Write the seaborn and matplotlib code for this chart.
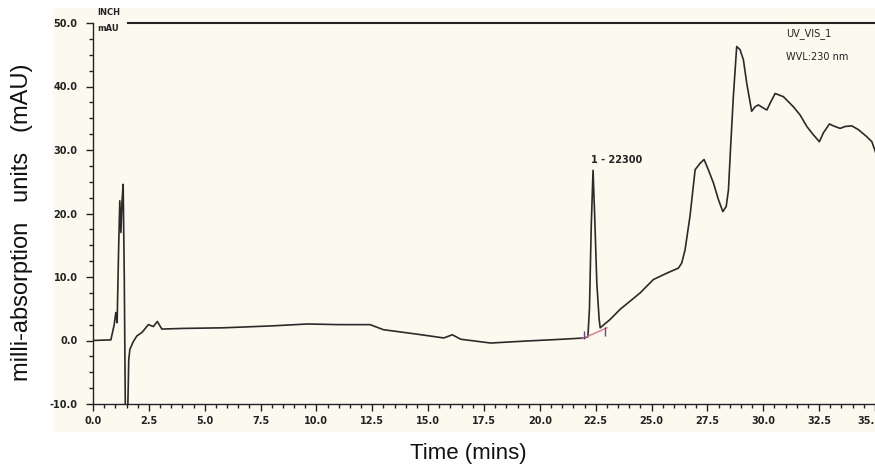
import numpy as np
import pandas as pd
import seaborn as sns
import matplotlib
matplotlib.use("Agg")
import matplotlib.pyplot as plt
from matplotlib.patches import Rectangle

# ---- data ----
time_min = [0.0, 0.8, 0.95, 1.02, 1.08, 1.15, 1.20, 1.25, 1.30, 1.35, 1.40, 1.45,
            1.55, 1.60, 1.65, 1.80, 1.96, 2.20, 2.48, 2.70, 2.88, 3.08, 4.0, 5.85,
            8.0, 9.6, 11.0, 12.4, 13.0, 14.5, 15.7, 16.08, 16.46, 17.8, 19.3, 21.0,
            22.0, 22.15, 22.22, 22.30, 22.38, 22.45, 22.55, 22.65, 22.70,
            23.14, 23.59, 24.04, 24.49, 25.08, 25.68, 26.20, 26.35, 26.50, 26.72,
            26.95, 27.17, 27.35, 27.54, 27.77, 27.99, 28.19, 28.34, 28.44, 28.54,
            28.66, 28.81, 28.96, 29.11, 29.26, 29.48, 29.63, 29.78, 30.01, 30.16,
            30.31, 30.53, 30.90, 31.35, 31.65, 31.95, 32.24, 32.51, 32.69, 32.96,
            33.14, 33.44, 33.66, 33.96, 34.26, 34.63, 34.86, 35.01, 35.10]
absorbance_mau = [0.0, 0.1, 2.5, 4.4, 2.8, 15.0, 22.0, 17.0, 22.0, 24.6, 10.0, -12.0,
                  -12.0, -3.0, -1.4, -0.2, 0.7, 1.3, 2.5, 2.2, 3.0, 1.8, 1.9, 2.0,
                  2.3, 2.6, 2.5, 2.5, 1.7, 1.0, 0.4, 0.9, 0.2, -0.4, -0.1, 0.2,
                  0.4, 0.6, 5.0, 18.0, 26.8, 20.0, 9.0, 3.5, 2.0,
                  3.3, 4.9, 6.2, 7.5, 9.6, 10.6, 11.4, 12.2, 14.3, 19.6,
                  26.9, 27.9, 28.5, 26.9, 24.8, 22.2, 20.3, 21.1, 23.7, 30.6,
                  38.4, 46.3, 45.8, 44.2, 40.5, 36.1, 36.8, 37.1, 36.6, 36.3,
                  37.4, 38.9, 38.4, 36.8, 35.5, 33.7, 32.4, 31.3, 32.7, 34.1,
                  33.8, 33.4, 33.7, 33.8, 33.2, 32.1, 31.3, 29.8, 28.8]

peak_label = "1 - 22300"
peak_time = 22.3
peak_label_y = 28.4
baseline_t = [21.9, 23.0]
baseline_v = [0.3, 2.0]
delim_t = [21.96, 22.93]
delim_lo = [0.2, 0.7]
delim_hi = [1.5, 2.2]

y_ticks = [50, 40, 30, 20, 10, 0, -10]
x_ticks = [0, 2.5, 5, 7.5, 10, 12.5, 15, 17.5, 20, 22.5, 25, 27.5, 30, 32.5, 35]
x_tick_labels = ["0.0", "2.5", "5.0", "7.5", "10.0", "12.5", "15.0", "17.5",
                 "20.0", "22.5", "25.0", "27.5", "30.0", "32.5", "35."]

df = pd.DataFrame({"t": time_min, "v": absorbance_mau})

cream = "#FCFAEE"
W, H = 875, 468
fig = plt.figure(figsize=(W / 100, H / 100), dpi=100)
fig.patch.set_facecolor("white")
bg = Rectangle((53 / W, 1 - 432 / H), (W - 53) / W, (432 - 8) / H,
               transform=fig.transFigure, facecolor=cream, edgecolor="none",
               zorder=-10)
fig.add_artist(bg)

ax = fig.add_axes([93 / W, 1 - 404 / H, (W - 93) / W, (404 - 23) / H])
ax.set_facecolor(cream)
ax.set_zorder(1)

sns.lineplot(data=df, x="t", y="v", ax=ax, color="#2a2a2a", linewidth=1.2,
             estimator=None, sort=False)

ax.plot(baseline_t, baseline_v, color="#e8708a", linewidth=1.0)
ax.vlines(delim_t, delim_lo, delim_hi, color="#5a4a8a", linewidth=1.0)

ax.set_xlim(0, 35)
ax.set_ylim(-10, 50)
ax.set_xticks(x_ticks)
ax.set_xticklabels(x_tick_labels)
ax.set_yticks(y_ticks)
ax.set_yticklabels([f"{v:.1f}" for v in y_ticks])
ax.set_xticks(np.arange(0, 35.01, 0.5), minor=True)
ax.set_yticks(np.arange(-10, 50.01, 2.5), minor=True)
ax.tick_params(axis="both", which="major", length=5, width=1, labelsize=7,
               color="#222222", labelcolor="#222222")
ax.tick_params(axis="both", which="minor", length=3, width=1, color="#222222")
ax.tick_params(axis="x", pad=4)
ax.tick_params(axis="y", pad=6)
for lab in ax.get_xticklabels() + ax.get_yticklabels():
    lab.set_fontweight("bold")
xl = ax.get_xticklabels()
xl[-1].set_horizontalalignment("right")

for s in ["top", "right"]:
    ax.spines[s].set_visible(False)
for s in ["left", "bottom"]:
    ax.spines[s].set_color("#222222")
    ax.spines[s].set_linewidth(1.0)
ax.axhline(50, xmin=(128 - 93) / (W - 93), xmax=1, color="#222222", linewidth=1.5,
           clip_on=False)

ax.text(0.2, 51.6, "INCH", fontsize=6, fontweight="bold", va="center", ha="left",
        color="#222222", clip_on=False)
ax.text(0.2, 49.2, "mAU", fontsize=6, fontweight="bold", va="center", ha="left",
        color="#222222")
ax.text(31.0, 48.4, "UV_VIS_1", fontsize=7, va="center", ha="left", color="#222222")
ax.text(31.0, 44.6, "WVL:230 nm", fontsize=7, va="center", ha="left", color="#222222")
ax.text(peak_time, peak_label_y, peak_label, fontsize=7, fontweight="bold",
        va="center", ha="left", color="#222222")

ax.set_xlabel("")
ax.set_ylabel("")
fig.text(468 / W, 1 - 453 / H, "Time (mins)", fontsize=16, ha="center",
         va="center", color="#111111", family="Liberation Sans")
fig.text(22 / W, 1 - 222 / H, "milli-absorption   units   (mAU)", fontsize=17,
         rotation=90, ha="center", va="center", color="#111111",
         family="Liberation Sans")

fig.savefig("out.png", dpi=100, facecolor="white")
